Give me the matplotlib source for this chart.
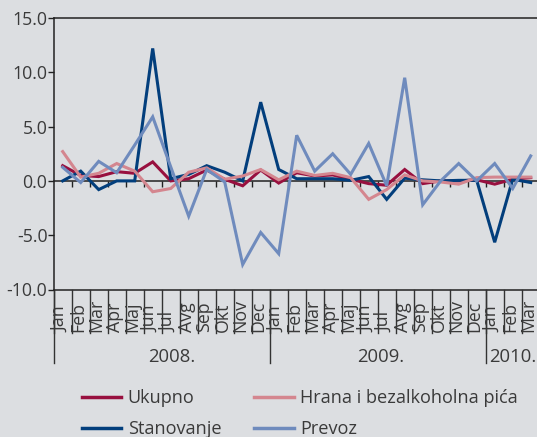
import matplotlib
matplotlib.use("Agg")
import matplotlib.pyplot as plt
import numpy as np

plt.rcParams['font.family'] = ['Open Sans', 'DejaVu Sans']
plt.rcParams['axes.unicode_minus'] = False

months = ["Jan", "Feb", "Mar", "Apr", "Maj", "Jun", "Jul", "Avg", "Sep", "Okt", "Nov", "Dec",
          "Jan", "Feb", "Mar", "Apr", "Maj", "Jun", "Jul", "Avg", "Sep", "Okt", "Nov", "Dec",
          "Jan", "Feb", "Mar"]
years = ["2008.", "2009.", "2010."]
year_months = [12, 12, 3]

ukupno = [1.4, 0.5, 0.4, 0.85, 0.7, 1.75, 0.0, 0.2, 1.0, 0.15, -0.45, 1.0,
          -0.2, 0.75, 0.45, 0.55, 0.15, -0.25, -0.4, 1.05, -0.25, 0.0, 0.0, 0.1,
          -0.3, 0.15, 0.3]
hrana = [2.7, 0.35, 0.7, 1.6, 0.9, -1.0, -0.7, 0.8, 1.2, 0.15, 0.45, 1.05,
         0.1, 0.9, 0.5, 0.7, 0.3, -1.7, -0.8, 0.55, 0.0, -0.1, -0.3, 0.3,
         0.35, 0.35, 0.35]
stanovanje = [0.0, 0.9, -0.8, 0.0, 0.0, 12.2, 0.2, 0.6, 1.4, 0.8, 0.0, 7.25,
              1.05, 0.2, 0.2, 0.2, 0.05, 0.4, -1.7, 0.25, 0.1, 0.0, 0.05, 0.05,
              -5.65, 0.15, -0.15]
prevoz = [1.25, -0.15, 1.8, 0.75, 3.3, 5.9, 1.3, -3.25, 1.05, -0.1, -7.7, -4.75,
          -6.7, 4.2, 0.9, 2.5, 0.6, 3.45, -0.45, 9.5, -2.2, 0.0, 1.6, 0.0,
          1.6, -0.7, 2.3]

series = [("Ukupno", ukupno, "#98103f"),
          ("Stanovanje", stanovanje, "#023e7c"),
          ("Hrana i bezalkoholna pića", hrana, "#d4868f"),
          ("Prevoz", prevoz, "#6f8bbd")]
draw_order = [0, 2, 1, 3]

bg = "#dcdee1"
W, H = 537, 437
fig = plt.figure(figsize=(W / 100, H / 100), dpi=100, facecolor=bg)

left_px, right_px, top_px, bot_px = 53.7, 539.7, 18.0, 289.5
ax = fig.add_axes([left_px / W, 1 - bot_px / H, (right_px - left_px) / W, (bot_px - top_px) / H])
ax.set_facecolor(bg)

x = np.arange(len(months))
lines = {}
for i in draw_order:
    name, vals, col = series[i]
    ln, = ax.plot(x, vals, color=col, lw=2.2, solid_joinstyle='miter', zorder=3 + i * 0.1)
    lines[name] = ln

ax.set_xlim(-0.5, len(months) - 0.5)
ax.set_ylim(-10, 15)
ax.set_yticks(np.arange(-10, 15.1, 5))
ax.yaxis.set_major_formatter(matplotlib.ticker.FormatStrFormatter('%.1f'))
ax.tick_params(axis='y', direction='out', length=4, width=1, color='#222222',
               labelsize=12.8, labelcolor='#3a3a3a', pad=0.5)

# zero line acts as x axis with ticks at month boundaries
ax.spines['bottom'].set_position(('data', 0))
ax.spines['bottom'].set_zorder(2)
ax.set_xticks(x[:-1] + 0.5)
ax.set_xticklabels([])
ax.tick_params(axis='x', direction='out', length=4.5, width=1, color='#222222')
ax.spines['right'].set_visible(False)
for s in ['left', 'top', 'bottom']:
    ax.spines[s].set_color('#222222')
    ax.spines[s].set_linewidth(1.1)
ax.axhline(-10, color='#222222', lw=1.1, clip_on=False)

# category table below the plot
tr = ax.get_xaxis_transform()
h_px = bot_px - top_px
cell_bot = -(333 - bot_px) / h_px
year_bot = -(363 - bot_px) / h_px
for b in np.arange(len(months)) - 0.5:
    ax.plot([b, b], [0, cell_bot], transform=tr, color='#333333', lw=1, clip_on=False)
start = 0
for yl, n in zip(years, year_months):
    b = start - 0.5
    ax.plot([b, b], [0, year_bot], transform=tr, color='#333333', lw=1, clip_on=False)
    start += n
for i, m in enumerate(months):
    ax.text(i - 0.12, -(332 - bot_px) / h_px, m, transform=tr, rotation=90,
            ha='center', va='bottom', fontsize=12.8, color='#3a3a3a')
year_centers = [6.05, 17.65, 25.0]
for yl, xc in zip(years, year_centers):
    ax.text(xc, -(357 - bot_px) / h_px, yl, transform=tr, ha='center', va='center',
            fontsize=13.3, color='#3a3a3a')

handles = [lines[s[0]] for s in series]
labels = [s[0] for s in series]
leg = fig.legend(handles, labels, ncol=2, loc='upper left',
                 bbox_to_anchor=(74.5 / W, 1 - 382 / H), frameon=False,
                 fontsize=13.1, handlelength=2.18, handletextpad=0.35,
                 columnspacing=1.8, labelspacing=0.72, borderaxespad=0,
                 labelcolor='#3a3a3a')
for l in leg.get_lines():
    l.set_linewidth(2.5)

fig.savefig("out.png", dpi=100, facecolor=bg)
